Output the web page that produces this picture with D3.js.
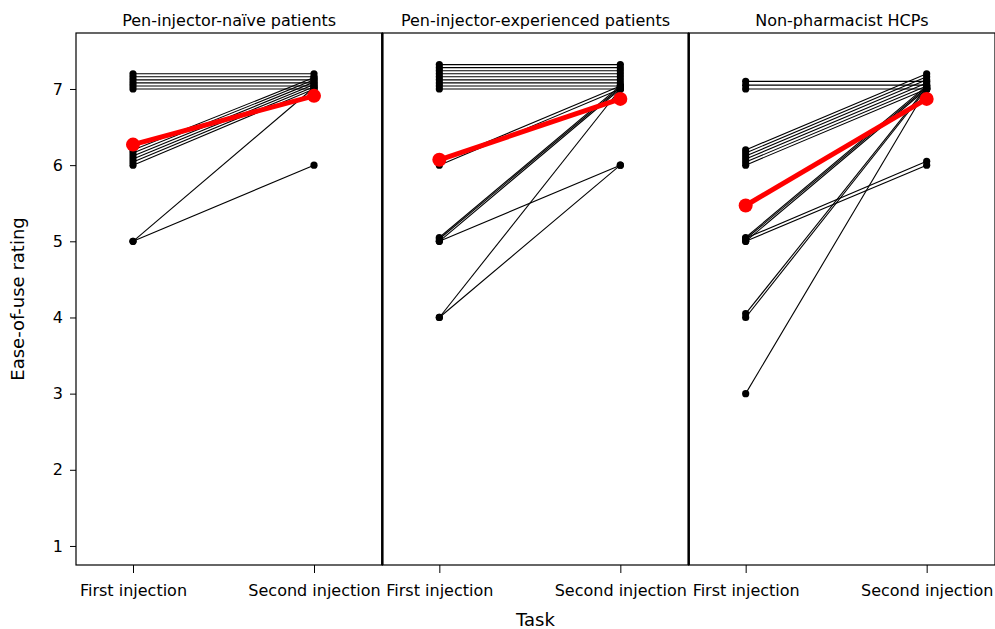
<!DOCTYPE html>
<html>
<head>
<meta charset="utf-8">
<script src="https://cdn.jsdelivr.net/npm/d3@7"></script>
<style>
  body { margin: 0; background: #fff; }
  text { font-family: "DejaVu Sans", sans-serif; fill: #000; }
</style>
</head>
<body>
<svg id="chart" width="995" height="629"></svg>
<script>
var panels = ["Pen-injector-naïve patients", "Pen-injector-experienced patients", "Non-pharmacist HCPs"]
var tasks = ["First injection", "Second injection"]
var yTicks = [1, 2, 3, 4, 5, 6, 7]

// per-subject ratings (small offsets keep tied subjects visible, as in the source)
var naiveFirst  = [7.20, 7.16, 7.12, 7.08, 7.04, 7.00, 6.20, 6.16, 6.12, 6.08, 6.04, 6.00, 5.00, 5.00]
var naiveSecond = [7.20, 7.16, 7.12, 7.08, 7.04, 7.00, 7.15, 7.12, 7.09, 7.06, 7.03, 7.00, 7.02, 6.00]

var expFirst  = [7.32, 7.28, 7.24, 7.20, 7.16, 7.12, 7.08, 7.04, 7.00, 6.04, 6.00, 5.05, 5.03, 5.00, 5.00, 4.00, 4.00]
var expSecond = [7.32, 7.28, 7.24, 7.20, 7.16, 7.12, 7.08, 7.04, 7.00, 7.04, 7.00, 7.04, 7.02, 7.00, 6.00, 7.00, 6.00]

var hcpFirst  = [7.10, 7.05, 7.00, 6.20, 6.16, 6.12, 6.08, 6.04, 6.00, 5.05, 5.03, 5.00, 5.04, 5.00, 4.05, 4.00, 3.00]
var hcpSecond = [7.10, 7.05, 7.00, 7.20, 7.16, 7.12, 7.08, 7.04, 7.00, 7.04, 7.02, 7.00, 6.05, 6.00, 7.02, 7.00, 7.00]

// group means
var naiveMean = [6.27, 6.91]
var expMean   = [6.07, 6.87]
var hcpMean   = [5.47, 6.87]

var groups = [
    {name: panels[0], first: naiveFirst, second: naiveSecond, mean: naiveMean},
    {name: panels[1], first: expFirst, second: expSecond, mean: expMean},
    {name: panels[2], first: hcpFirst, second: hcpSecond, mean: hcpMean}
]

var svg = d3.select("#chart")
var mTop = 33, mBottom = 565, mLeft = 76, mRight = 995

var y = d3.scaleLinear().domain([0.75, 7.735]).range([mBottom, mTop])
var px = d3.scaleBand().domain(panels).range([mLeft, mRight]).paddingInner(0)
var x = d3.scalePoint().domain(tasks).range([57, 238]).padding(0)

var line = d3.line().x(d => x(d[0])).y(d => y(d[1]))

groups.forEach((g, i) => {
    var p = svg.append("g").attr("transform", "translate(" + px(g.name) + ",0)")
    var w = px.bandwidth()

    // subject lines
    var pairs = g.first.map((v, k) => [[tasks[0], v], [tasks[1], g.second[k]]])
    p.append("g").selectAll("path")
        .data(pairs)
        .enter()
        .append("path")
        .attr("d", line)
        .attr("fill", "none")
        .attr("stroke", "#000")
        .attr("stroke-width", 1.1)

    var pts = []
    pairs.forEach(pr => { pts.push(pr[0]); pts.push(pr[1]) })
    p.append("g").selectAll("circle")
        .data(pts)
        .enter()
        .append("circle")
        .attr("cx", d => x(d[0]))
        .attr("cy", d => y(d[1]))
        .attr("r", 3.6)
        .attr("fill", "#000")

    // mean
    var m = tasks.map((t, k) => [t, g.mean[k]])
    p.append("path")
        .attr("d", line(m))
        .attr("fill", "none")
        .attr("stroke", "#ff0000")
        .attr("stroke-width", 5)
    p.append("g").selectAll("circle")
        .data(m)
        .enter()
        .append("circle")
        .attr("cx", d => x(d[0]))
        .attr("cy", d => y(d[1]))
        .attr("r", 7)
        .attr("fill", "#ff0000")

    // frame
    p.append("rect")
        .attr("x", 0).attr("y", mTop)
        .attr("width", w).attr("height", mBottom - mTop)
        .attr("fill", "none")
        .attr("stroke", "#000")
        .attr("stroke-width", 1.2)
    if (i > 0) {
        p.append("line")
            .attr("x1", 0).attr("x2", 0)
            .attr("y1", mTop).attr("y2", mBottom)
            .attr("stroke", "#000")
            .attr("stroke-width", 2.5)
    }

    // title
    p.append("text")
        .attr("x", w / 2)
        .attr("y", 26)
        .attr("text-anchor", "middle")
        .style("font-size", "16px")
        .text(g.name)

    // x axis
    var xa = p.append("g").attr("transform", "translate(0," + mBottom + ")")
        .call(d3.axisBottom(x).tickSize(8).tickPadding(12))
    xa.select(".domain").remove()
    xa.selectAll("line").attr("stroke", "#000")
    xa.selectAll("text").style("font-size", "16px").style("font-family", "DejaVu Sans, sans-serif")
})

// y axis
var ya = svg.append("g").attr("transform", "translate(" + mLeft + ",0)")
    .call(d3.axisLeft(y).tickValues(yTicks).tickSize(6).tickPadding(7).tickFormat(d3.format("d")))
ya.select(".domain").remove()
ya.selectAll("line").attr("stroke", "#000")
ya.selectAll("text").style("font-size", "16px").style("font-family", "DejaVu Sans, sans-serif")

svg.append("text")
    .attr("transform", "translate(24," + (mTop + mBottom) / 2 + ") rotate(-90)")
    .attr("text-anchor", "middle")
    .style("font-size", "18px")
    .text("Ease-of-use rating")

svg.append("text")
    .attr("x", (mLeft + mRight) / 2)
    .attr("y", 626)
    .attr("text-anchor", "middle")
    .style("font-size", "18px")
    .text("Task")
</script>
</body>
</html>
